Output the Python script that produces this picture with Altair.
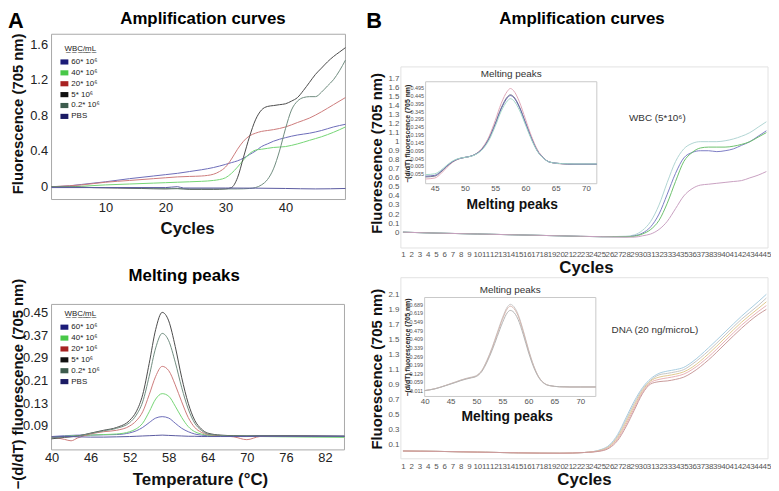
import altair as alt
import pandas as pd

FONT = "Liberation Sans"
W, H = 771, 483

# ---------------- Panel A : amplification curves ----------------
A_SERIES = ["60* 10⁶", "40* 10⁶", "20* 10⁶", "5* 10⁶", "0.2* 10⁶", "PBS"]
A_LEGEND_TITLE = "W\u0332B\u0332C\u0332/\u0332m\u0332L\u0332"
A_LEGEND_COLORS = ["#1c1c78", "#48c848", "#a82222", "#111111", "#3d5c4e", "#1b1b64"]
A_LINE_COLORS = ["#6b6bb8", "#74d474", "#cc7a7a", "#4a4a4a", "#6f8c7e", "#5a5aa0"]

a1_cyc_60 = [1, 4, 6, 10, 14, 18, 20, 22, 24, 26, 28, 30, 31, 32, 33, 34, 35, 36, 37, 38, 40, 42, 44, 46, 48, 50]
a1_val_60 = [0.0, 0.01, 0.025, 0.055, 0.09, 0.12, 0.135, 0.15, 0.17, 0.19, 0.215, 0.25, 0.27, 0.29, 0.32, 0.36, 0.40, 0.45, 0.48, 0.51, 0.55, 0.58, 0.60, 0.63, 0.67, 0.70]
a1_cyc_40 = [1, 4, 6, 10, 14, 18, 20, 22, 24, 26, 28, 29, 30, 31, 32, 33, 34, 35, 36, 37, 38, 40, 42, 44, 46, 48, 50]
a1_val_40 = [0.0, 0.0, 0.005, 0.02, 0.03, 0.04, 0.045, 0.05, 0.055, 0.06, 0.07, 0.08, 0.10, 0.15, 0.22, 0.30, 0.37, 0.41, 0.42, 0.43, 0.44, 0.45, 0.48, 0.52, 0.56, 0.61, 0.67]
a1_cyc_20 = [1, 4, 6, 10, 14, 18, 20, 22, 24, 26, 28, 29, 30, 31, 32, 33, 34, 35, 36, 37, 38, 40, 42, 44, 46, 48, 50]
a1_val_20 = [0.0, 0.01, 0.02, 0.05, 0.07, 0.09, 0.10, 0.11, 0.115, 0.12, 0.14, 0.17, 0.22, 0.31, 0.42, 0.51, 0.57, 0.60, 0.62, 0.63, 0.64, 0.67, 0.72, 0.77, 0.84, 0.92, 1.0]
a1_cyc_5 = [1, 4, 8, 12, 16, 20, 22, 24, 26, 28, 30, 31, 32, 33, 34, 35, 36, 37, 38, 39, 40, 41, 42, 43, 44, 45, 46, 47, 48, 49, 50]
a1_val_5 = [0.0, -0.005, -0.01, -0.015, -0.02, -0.025, -0.02, -0.03, -0.03, -0.03, -0.025, -0.01, 0.10, 0.33, 0.56, 0.75, 0.86, 0.90, 0.91, 0.92, 0.93, 0.96, 1.0, 1.08, 1.17, 1.26, 1.33, 1.40, 1.46, 1.51, 1.56]
a1_cyc_02 = [1, 4, 8, 12, 16, 20, 24, 28, 32, 34, 35, 36, 37, 38, 39, 40, 41, 42, 43, 44, 45, 46, 47, 48, 49, 50]
a1_val_02 = [0.0, 0.0, -0.01, -0.01, -0.015, -0.02, -0.025, -0.025, -0.025, -0.02, -0.01, 0.02, 0.08, 0.20, 0.40, 0.65, 0.86, 0.96, 1.0, 1.01, 1.01, 1.06, 1.13, 1.20, 1.30, 1.42]
a1_cyc_pbs = [1, 10, 20, 22, 23, 30, 40, 45, 50]
a1_val_pbs = [-0.01, -0.01, -0.01, 0.0, -0.015, -0.015, -0.02, -0.025, -0.02]

# ---------------- Panel A : melting peaks ----------------
a2_temp = [40, 42, 43, 44, 46, 48, 50, 52, 53, 54, 55, 56, 57, 58, 59, 60, 61, 62, 63, 64, 66, 68, 70, 72, 76, 80, 85]
a2_val_60 = [0.013, 0.016, 0.017, 0.018, 0.018, 0.019, 0.02, 0.026, 0.033, 0.045, 0.062, 0.078, 0.083, 0.078, 0.06, 0.042, 0.03, 0.022, 0.018, 0.016, 0.015, 0.015, 0.015, 0.015, 0.015, 0.015, 0.014]
a2_val_40 = [0.01, 0.014, 0.015, 0.016, 0.018, 0.02, 0.022, 0.03, 0.04, 0.06, 0.10, 0.145, 0.164, 0.155, 0.12, 0.08, 0.048, 0.03, 0.022, 0.018, 0.016, 0.015, 0.014, 0.013, 0.012, 0.011, 0.01]
a2_val_20 = [0.012, 0.003, -0.002, 0.008, 0.022, 0.03, 0.035, 0.05, 0.068, 0.10, 0.16, 0.225, 0.26, 0.245, 0.195, 0.135, 0.08, 0.045, 0.028, 0.02, 0.016, 0.012, 0.002, 0.013, 0.015, 0.014, 0.013]
a2_val_5 = [0.005, 0.01, 0.012, 0.015, 0.025, 0.035, 0.045, 0.07, 0.10, 0.16, 0.27, 0.39, 0.45, 0.42, 0.33, 0.22, 0.13, 0.07, 0.04, 0.025, 0.018, 0.016, 0.015, 0.016, 0.016, 0.015, 0.014]
a2_val_02 = [0.008, 0.012, 0.013, 0.015, 0.024, 0.033, 0.042, 0.062, 0.088, 0.135, 0.225, 0.325, 0.376, 0.35, 0.275, 0.185, 0.11, 0.06, 0.035, 0.022, 0.017, 0.015, 0.015, 0.015, 0.015, 0.014, 0.014]
a2_val_pbs = [0.012, 0.013, 0.013, 0.012, 0.011, 0.011, 0.012, 0.013, 0.014, 0.015, 0.016, 0.017, 0.018, 0.017, 0.016, 0.015, 0.014, 0.014, 0.013, 0.013, 0.013, 0.013, 0.013, 0.014, 0.014, 0.014, 0.014]
a2_ticks = [0.05, 0.13, 0.21, 0.29, 0.37, 0.45]

# ---------------- Panel B top : WBC ----------------
B1_SERIES = ["teal", "blue", "green", "pink"]
B1_COLORS = ["#b0d4d2", "#7c7cc4", "#6cc06c", "#c8a0c0"]
b1_cyc = [1, 5, 10, 15, 20, 25, 28, 29, 30, 31, 32, 33, 34, 35, 36, 37, 38, 39, 40, 41, 42, 43, 44, 45]
b1_teal = [0.0, -0.01, -0.02, -0.03, -0.04, -0.05, -0.045, -0.03, 0.02, 0.12, 0.30, 0.55, 0.78, 0.92, 0.98, 1.0, 1.0, 1.0, 1.01, 1.03, 1.06, 1.10, 1.16, 1.22]
b1_blue = [0.0, -0.01, -0.02, -0.03, -0.04, -0.05, -0.05, -0.04, -0.01, 0.06, 0.20, 0.42, 0.65, 0.82, 0.88, 0.90, 0.90, 0.89, 0.90, 0.92, 0.96, 1.0, 1.06, 1.12]
b1_green = [0.0, -0.01, -0.02, -0.03, -0.04, -0.05, -0.05, -0.045, -0.02, 0.03, 0.13, 0.32, 0.56, 0.78, 0.88, 0.93, 0.94, 0.94, 0.94, 0.95, 0.97, 1.0, 1.05, 1.10]
b1_pink = [0.0, -0.01, -0.02, -0.03, -0.04, -0.05, -0.055, -0.055, -0.04, -0.02, 0.03, 0.12, 0.26, 0.40, 0.48, 0.52, 0.53, 0.54, 0.55, 0.56, 0.57, 0.60, 0.63, 0.67]
b1_yticks = [0, 0.1, 0.2, 0.3, 0.4, 0.5, 0.6, 0.7, 0.8, 0.9, 1, 1.1, 1.2, 1.3, 1.4, 1.5, 1.6, 1.7]
b1_note = ["WBC (5*10⁶)"]
b1_note_x = [31.8]
b1_note_y = [1.26]

B1I_SERIES = ["pink", "grey", "blue", "teal"]
B1I_COLORS = ["#e0a8b8", "#7a7a88", "#6a6ab0", "#a4d8c8"]
b1i_temp = [43.5, 45, 46, 47, 48, 49, 50, 51, 52, 53, 54, 55, 56, 57, 57.5, 58, 59, 60, 61, 62, 63, 64, 66, 68, 70, 71.8]
b1i_pink = [-0.088, -0.082, -0.055, -0.015, 0.02, 0.04, 0.05, 0.058, 0.078, 0.118, 0.185, 0.285, 0.395, 0.472, 0.49, 0.478, 0.405, 0.295, 0.185, 0.098, 0.048, 0.02, 0.008, 0.005, 0.005, 0.005]
b1i_grey = [-0.075, -0.07, -0.045, -0.008, 0.023, 0.041, 0.05, 0.058, 0.076, 0.112, 0.173, 0.265, 0.366, 0.436, 0.45, 0.44, 0.374, 0.272, 0.171, 0.09, 0.045, 0.02, 0.01, 0.007, 0.007, 0.007]
b1i_blue = [-0.07, -0.065, -0.04, -0.005, 0.025, 0.042, 0.05, 0.058, 0.075, 0.11, 0.17, 0.26, 0.36, 0.43, 0.445, 0.435, 0.37, 0.27, 0.17, 0.09, 0.045, 0.02, 0.01, 0.007, 0.007, 0.007]
b1i_teal = [-0.06, -0.055, -0.033, 0.0, 0.028, 0.043, 0.05, 0.057, 0.073, 0.105, 0.162, 0.248, 0.345, 0.41, 0.425, 0.415, 0.352, 0.258, 0.163, 0.087, 0.044, 0.02, 0.01, 0.008, 0.008, 0.008]
b1i_yticks = [0.495, 0.445, 0.395, 0.345, 0.295, 0.245, 0.195, 0.145, 0.095, 0.045, -0.005, -0.055]
b1i_xticks = [45, 50, 55, 60, 65, 70]

# ---------------- Panel B bottom : DNA ----------------
B2_SERIES = ["c1", "c2", "c3", "c4", "c5"]
B2_COLORS = ["#a8cce0", "#c4c4c4", "#e0c890", "#e8b0b4", "#c89a9a"]
b2_cyc = [1, 5, 10, 15, 20, 23, 25, 26, 27, 28, 29, 30, 31, 32, 33, 34, 35, 36, 38, 40, 42, 44, 45]
b2_c1 = [0.02, 0.015, 0.005, -0.005, -0.01, 0.0, 0.04, 0.10, 0.24, 0.46, 0.68, 0.86, 0.98, 1.05, 1.08, 1.10, 1.13, 1.20, 1.39, 1.60, 1.81, 2.0, 2.1]
b2_c2 = [0.02, 0.015, 0.005, -0.005, -0.01, 0.0, 0.035, 0.09, 0.22, 0.43, 0.65, 0.84, 0.96, 1.03, 1.05, 1.07, 1.10, 1.17, 1.35, 1.56, 1.77, 1.95, 2.05]
b2_c3 = [0.02, 0.015, 0.005, -0.005, -0.01, 0.0, 0.03, 0.08, 0.20, 0.40, 0.62, 0.82, 0.95, 1.0, 1.02, 1.04, 1.07, 1.13, 1.31, 1.52, 1.73, 1.91, 2.0]
b2_c4 = [0.02, 0.015, 0.005, -0.005, -0.01, 0.0, 0.025, 0.07, 0.18, 0.37, 0.59, 0.80, 0.93, 0.97, 0.99, 1.01, 1.04, 1.10, 1.27, 1.48, 1.69, 1.87, 1.95]
b2_c5 = [0.02, 0.015, 0.005, -0.005, -0.01, 0.0, 0.02, 0.06, 0.16, 0.34, 0.56, 0.78, 0.91, 0.94, 0.95, 0.97, 1.0, 1.06, 1.23, 1.44, 1.65, 1.83, 1.90]
b2_yticks = [0.1, 0.3, 0.5, 0.7, 0.9, 1.1, 1.3, 1.5, 1.7, 1.9, 2.1]
b2_note = ["DNA (20 ng/microL)"]
b2_note_x = [31.5]
b2_note_y = [1.63]

B2I_SERIES = ["d1", "d2", "d3"]
B2I_COLORS = ["#c8c8c8", "#d4b4ac", "#b4b4b4"]
b2i_temp = [40, 42, 44, 46, 47, 48, 49, 50, 51, 52, 53, 54, 55, 56, 56.5, 57, 58, 59, 60, 61, 62, 63, 64, 66, 68, 70, 73]
b2i_d1 = [-0.011, 0.004, 0.03, 0.06, 0.075, 0.088, 0.098, 0.112, 0.152, 0.234, 0.338, 0.46, 0.58, 0.672, 0.69, 0.68, 0.61, 0.478, 0.326, 0.194, 0.10, 0.05, 0.03, 0.02, 0.018, 0.018, 0.018]
b2i_d2 = [-0.011, 0.004, 0.03, 0.058, 0.073, 0.085, 0.095, 0.108, 0.148, 0.228, 0.33, 0.45, 0.568, 0.658, 0.675, 0.665, 0.598, 0.468, 0.318, 0.19, 0.098, 0.05, 0.03, 0.02, 0.018, 0.018, 0.018]
b2i_d3 = [-0.012, 0.003, 0.028, 0.055, 0.07, 0.082, 0.092, 0.104, 0.142, 0.218, 0.315, 0.428, 0.54, 0.625, 0.64, 0.632, 0.568, 0.445, 0.302, 0.18, 0.094, 0.048, 0.03, 0.02, 0.018, 0.018, 0.018]
b2i_yticks = [0.689, 0.619, 0.549, 0.479, 0.409, 0.339, 0.269, 0.199, 0.129, 0.059, -0.011]
b2i_xticks = [40, 45, 50, 55, 60, 65, 70]

B_XTICKS = list(range(1, 46))


def long_df(names, xs_list, ys_list):
    rows = []
    for name, xs, ys in zip(names, xs_list, ys_list):
        for i, (x, y) in enumerate(zip(xs, ys)):
            rows.append({"s": name, "x": x, "y": y, "o": i})
    return pd.DataFrame(rows)


def make_axis(orient, offset, values, title, title_x, title_y, label_size, label_pad,
              title_size, label_color="#222", fmt=None, label_expr=None, title_color="#111",
              title_weight="bold", overlap=True):
    kw = dict(orient=orient, offset=offset, values=values, title=title, labelFont=FONT,
              labelFontSize=label_size, labelColor=label_color, labelPadding=label_pad,
              titleFont=FONT, titleFontSize=title_size, titleFontWeight=title_weight,
              titleColor=title_color, titleX=title_x, titleY=title_y, titleBaseline="middle",
              titleAlign="center", ticks=False, tickSize=0, domain=False, grid=False, zindex=1,
              labelFlush=False)
    if not overlap:
        kw["labelOverlap"] = False
    if fmt is not None:
        kw["format"] = fmt
    if label_expr is not None:
        kw["labelExpr"] = label_expr
    return alt.Axis(**kw)


def panel(df, names, colors, xdom, xrng, ydom, yrng, xaxis, yaxis, frame_stroke, frame_fill=None,
          extra=None):
    sx = alt.Scale(domain=xdom, range=xrng, nice=False, zero=False)
    sy = alt.Scale(domain=ydom, range=yrng, nice=False, zero=False)
    X = lambda f: alt.X(f, scale=sx, axis=xaxis)
    Y = lambda f: alt.Y(f, scale=sy, axis=yaxis)
    fdf = pd.DataFrame({"x0": [xdom[0]], "x1": [xdom[1]], "y0": [ydom[0]], "y1": [ydom[1]]})
    rect_kw = dict(stroke=frame_stroke, strokeWidth=1)
    if frame_fill:
        rect_kw["fill"] = frame_fill
    else:
        rect_kw["fillOpacity"] = 0
    frame = alt.Chart(fdf).mark_rect(**rect_kw).encode(x=X("x0:Q"), x2="x1:Q", y=Y("y0:Q"), y2="y1:Q")
    # colour scale domain comes from the data (sorted in series order) so that it is
    # never merged with the explicit-domain legend scale of the legend layer
    lines = alt.Chart(df).mark_line(strokeWidth=1, interpolate="monotone").encode(
        x=X("x:Q"), y=Y("y:Q"),
        color=alt.Color("s:N", sort=names, scale=alt.Scale(range=colors), legend=None),
        order="o:Q")
    layers = [frame, lines]
    if extra:
        layers += [e(X, Y) for e in extra]
    return alt.layer(*layers)


def legend_layer(df, lx, ly):
    def f(X, Y):
        leg = alt.Legend(orient="none", legendX=lx, legendY=ly, title=A_LEGEND_TITLE, titleFont=FONT,
                         titleFontSize=8, titleFontWeight="normal", titleColor="#222", titlePadding=5,
                         titleAnchor="middle", labelFont=FONT, labelFontSize=8, labelColor="#222",
                         symbolType="M-1,-0.65L1,-0.65L1,0.65L-1,0.65Z", symbolSize=64,
                         symbolOpacity=1, symbolStrokeWidth=0,
                         rowPadding=3, padding=0, labelOffset=3, zindex=2)
        return alt.Chart(df).mark_square(size=0).encode(
            x=X("x:Q"), y=Y("y:Q"),
            fill=alt.Fill("s:N", scale=alt.Scale(domain=A_SERIES, range=A_LEGEND_COLORS), legend=leg))
    return f


def note_layer(xs, ys, ts, size=10, color="#333", dy=0):
    def f(X, Y):
        return alt.Chart(pd.DataFrame({"x": xs, "y": ys, "t": ts})).mark_text(
            font=FONT, fontSize=size, color=color, dy=dy).encode(x=X("x:Q"), y=Y("y:Q"), text="t:N")
    return f


# ---------- A1 ----------
df_a1 = long_df(A_SERIES,
                [a1_cyc_60, a1_cyc_40, a1_cyc_20, a1_cyc_5, a1_cyc_02, a1_cyc_pbs],
                [a1_val_60, a1_val_40, a1_val_20, a1_val_5, a1_val_02, a1_val_pbs])
a1_xax = make_axis("bottom", 191 - H, [10, 20, 30, 40], "Cycles", 181, 29, 13, 2, 17)
a1_yax = make_axis("left", -44, [0, 0.4, 0.8, 1.2, 1.6], "Fluorescence (705 nm)", -34, 104, 13, 4, 15,
                   fmt="~g")
P_A1 = panel(df_a1, A_SERIES, A_LINE_COLORS, [1, 50], [44, 341], [-0.144, 1.71], [191, 24],
             a1_xax, a1_yax, "#a8a8a8", extra=[legend_layer(df_a1, 53, 35)])

# ---------- A2 ----------
df_a2 = long_df(A_SERIES, [a2_temp] * 6,
                [a2_val_60, a2_val_40, a2_val_20, a2_val_5, a2_val_02, a2_val_pbs])
a2_xax = make_axis("bottom", 444 - H, [40, 46, 52, 58, 64, 70, 76, 82], "Temperature (°C)", 194, 30, 13, 2, 17)
a2_yax = make_axis("left", -44, a2_ticks, "−(d/dT) fluorescence (705 nm)", -34, 377, 13, 4, 15,
                   label_expr="datum.value < 0.06 ? '0.09' : format(datum.value, '.2f')")
P_A2 = panel(df_a2, A_SERIES, A_LINE_COLORS, [40, 85], [44, 340], [-0.034, 0.478], [444, 297],
             a2_xax, a2_yax, "#a8a8a8", extra=[legend_layer(df_a2, 53, 303)])

# ---------- B1 ----------
df_b1 = long_df(B1_SERIES, [b1_cyc] * 4, [b1_teal, b1_blue, b1_green, b1_pink])
b1_xax = make_axis("bottom", 240 - H, B_XTICKS, "Cycles", 584, 20, 8, 3, 17, label_color="#555", overlap=False)
b1_yax = make_axis("left", -397, b1_yticks, "Fluorescence (705 nm)", -25, 144, 8, 2, 15,
                   label_color="#555", fmt="~g", overlap=False)
P_B1 = panel(df_b1, B1_SERIES, B1_COLORS, [0.75, 45.2], [397, 768], [-0.175, 1.826], [240, 57],
             b1_xax, b1_yax, "#e2e2e2", extra=[note_layer(b1_note_x, b1_note_y, b1_note)])

df_b1i = long_df(B1I_SERIES, [b1i_temp] * 4, [b1i_pink, b1i_grey, b1i_blue, b1i_teal])
b1i_xax = make_axis("bottom", 175 - H, b1i_xticks, "Melting peaks", 509, 21, 8, 1, 14, label_color="#555")
b1i_yax = make_axis("left", -422, b1i_yticks, "−(d/dT) fluorescence (705 nm)", -18, 124, 5.5, 2, 7,
                    label_color="#555", fmt=".3f", title_color="#222", overlap=False)
P_B1I = panel(df_b1i, B1I_SERIES, B1I_COLORS, [43.5, 71.8], [422, 595], [-0.118, 0.533], [175, 72],
              b1i_xax, b1i_yax, "#c8c8c8", frame_fill="white",
              extra=[note_layer([57.65], [0.533], ["Melting peaks"], dy=-8)])

# ---------- B2 ----------
df_b2 = long_df(B2_SERIES, [b2_cyc] * 5, [b2_c1, b2_c2, b2_c3, b2_c4, b2_c5])
b2_xax = make_axis("bottom", 453 - H, B_XTICKS, "Cycles", 582, 21, 8, 4, 17, label_color="#555", overlap=False)
b2_yax = make_axis("left", -397, b2_yticks, "Fluorescence (705 nm)", -25, 362, 8, 2, 15,
                   label_color="#555", fmt=".1f", overlap=False)
P_B2 = panel(df_b2, B2_SERIES, B2_COLORS, [0.75, 45.2], [397, 768], [-0.084, 2.32], [453, 270],
             b2_xax, b2_yax, "#e2e2e2", extra=[note_layer(b2_note_x, b2_note_y, b2_note)])

df_b2i = long_df(B2I_SERIES, [b2i_temp] * 3, [b2i_d1, b2i_d2, b2i_d3])
b2i_xax = make_axis("bottom", 390 - H, b2i_xticks, "Melting peaks", 504, 20, 8, 1, 14, label_color="#555")
b2i_yax = make_axis("left", -421, b2i_yticks, "−(d/dT) fluorescence (705 nm)", -17, 340, 5.5, 2, 7,
                    label_color="#555", fmt=".3f", title_color="#222", overlap=False)
P_B2I = panel(df_b2i, B2I_SERIES, B2I_COLORS, [40, 73], [421, 594], [-0.059, 0.745], [390, 290],
              b2i_xax, b2i_yax, "#c8c8c8", frame_fill="white",
              extra=[note_layer([56.5], [0.745], ["Melting peaks"], dy=-8)])

# ---------- headings ----------
HEAD_TEXT = ["A", "B", "Amplification curves", "Amplification curves", "Melting peaks"]
head_df = pd.DataFrame({"t": HEAD_TEXT})


def head(i, x, y, size, align, baseline):
    return alt.Chart(head_df.iloc[[i]]).mark_text(
        font=FONT, fontSize=size, fontWeight="bold", color="#000", align=align, baseline=baseline
    ).encode(x=alt.value(x), y=alt.value(y), text="t:N")


heads = alt.layer(
    head(0, 0, 1, 22, "left", "top"),
    head(1, 362, 1, 22, "left", "top"),
    head(2, 197, 9, 17, "center", "middle"),
    head(3, 580, 9, 17, "center", "middle"),
    head(4, 178, 268, 17, "center", "middle"),
)

chart = alt.layer(P_A1, P_A2, P_B1, P_B1I, P_B2, P_B2I, heads).resolve_scale(
    x="independent", y="independent", color="independent", fill="independent"
).properties(
    width=W, height=H, padding=0, autosize=alt.AutoSizeParams(type="none"), background="white"
).configure(font=FONT).configure_view(strokeWidth=0)

chart.save("out.html", embed_options={"renderer": "svg", "actions": False})
